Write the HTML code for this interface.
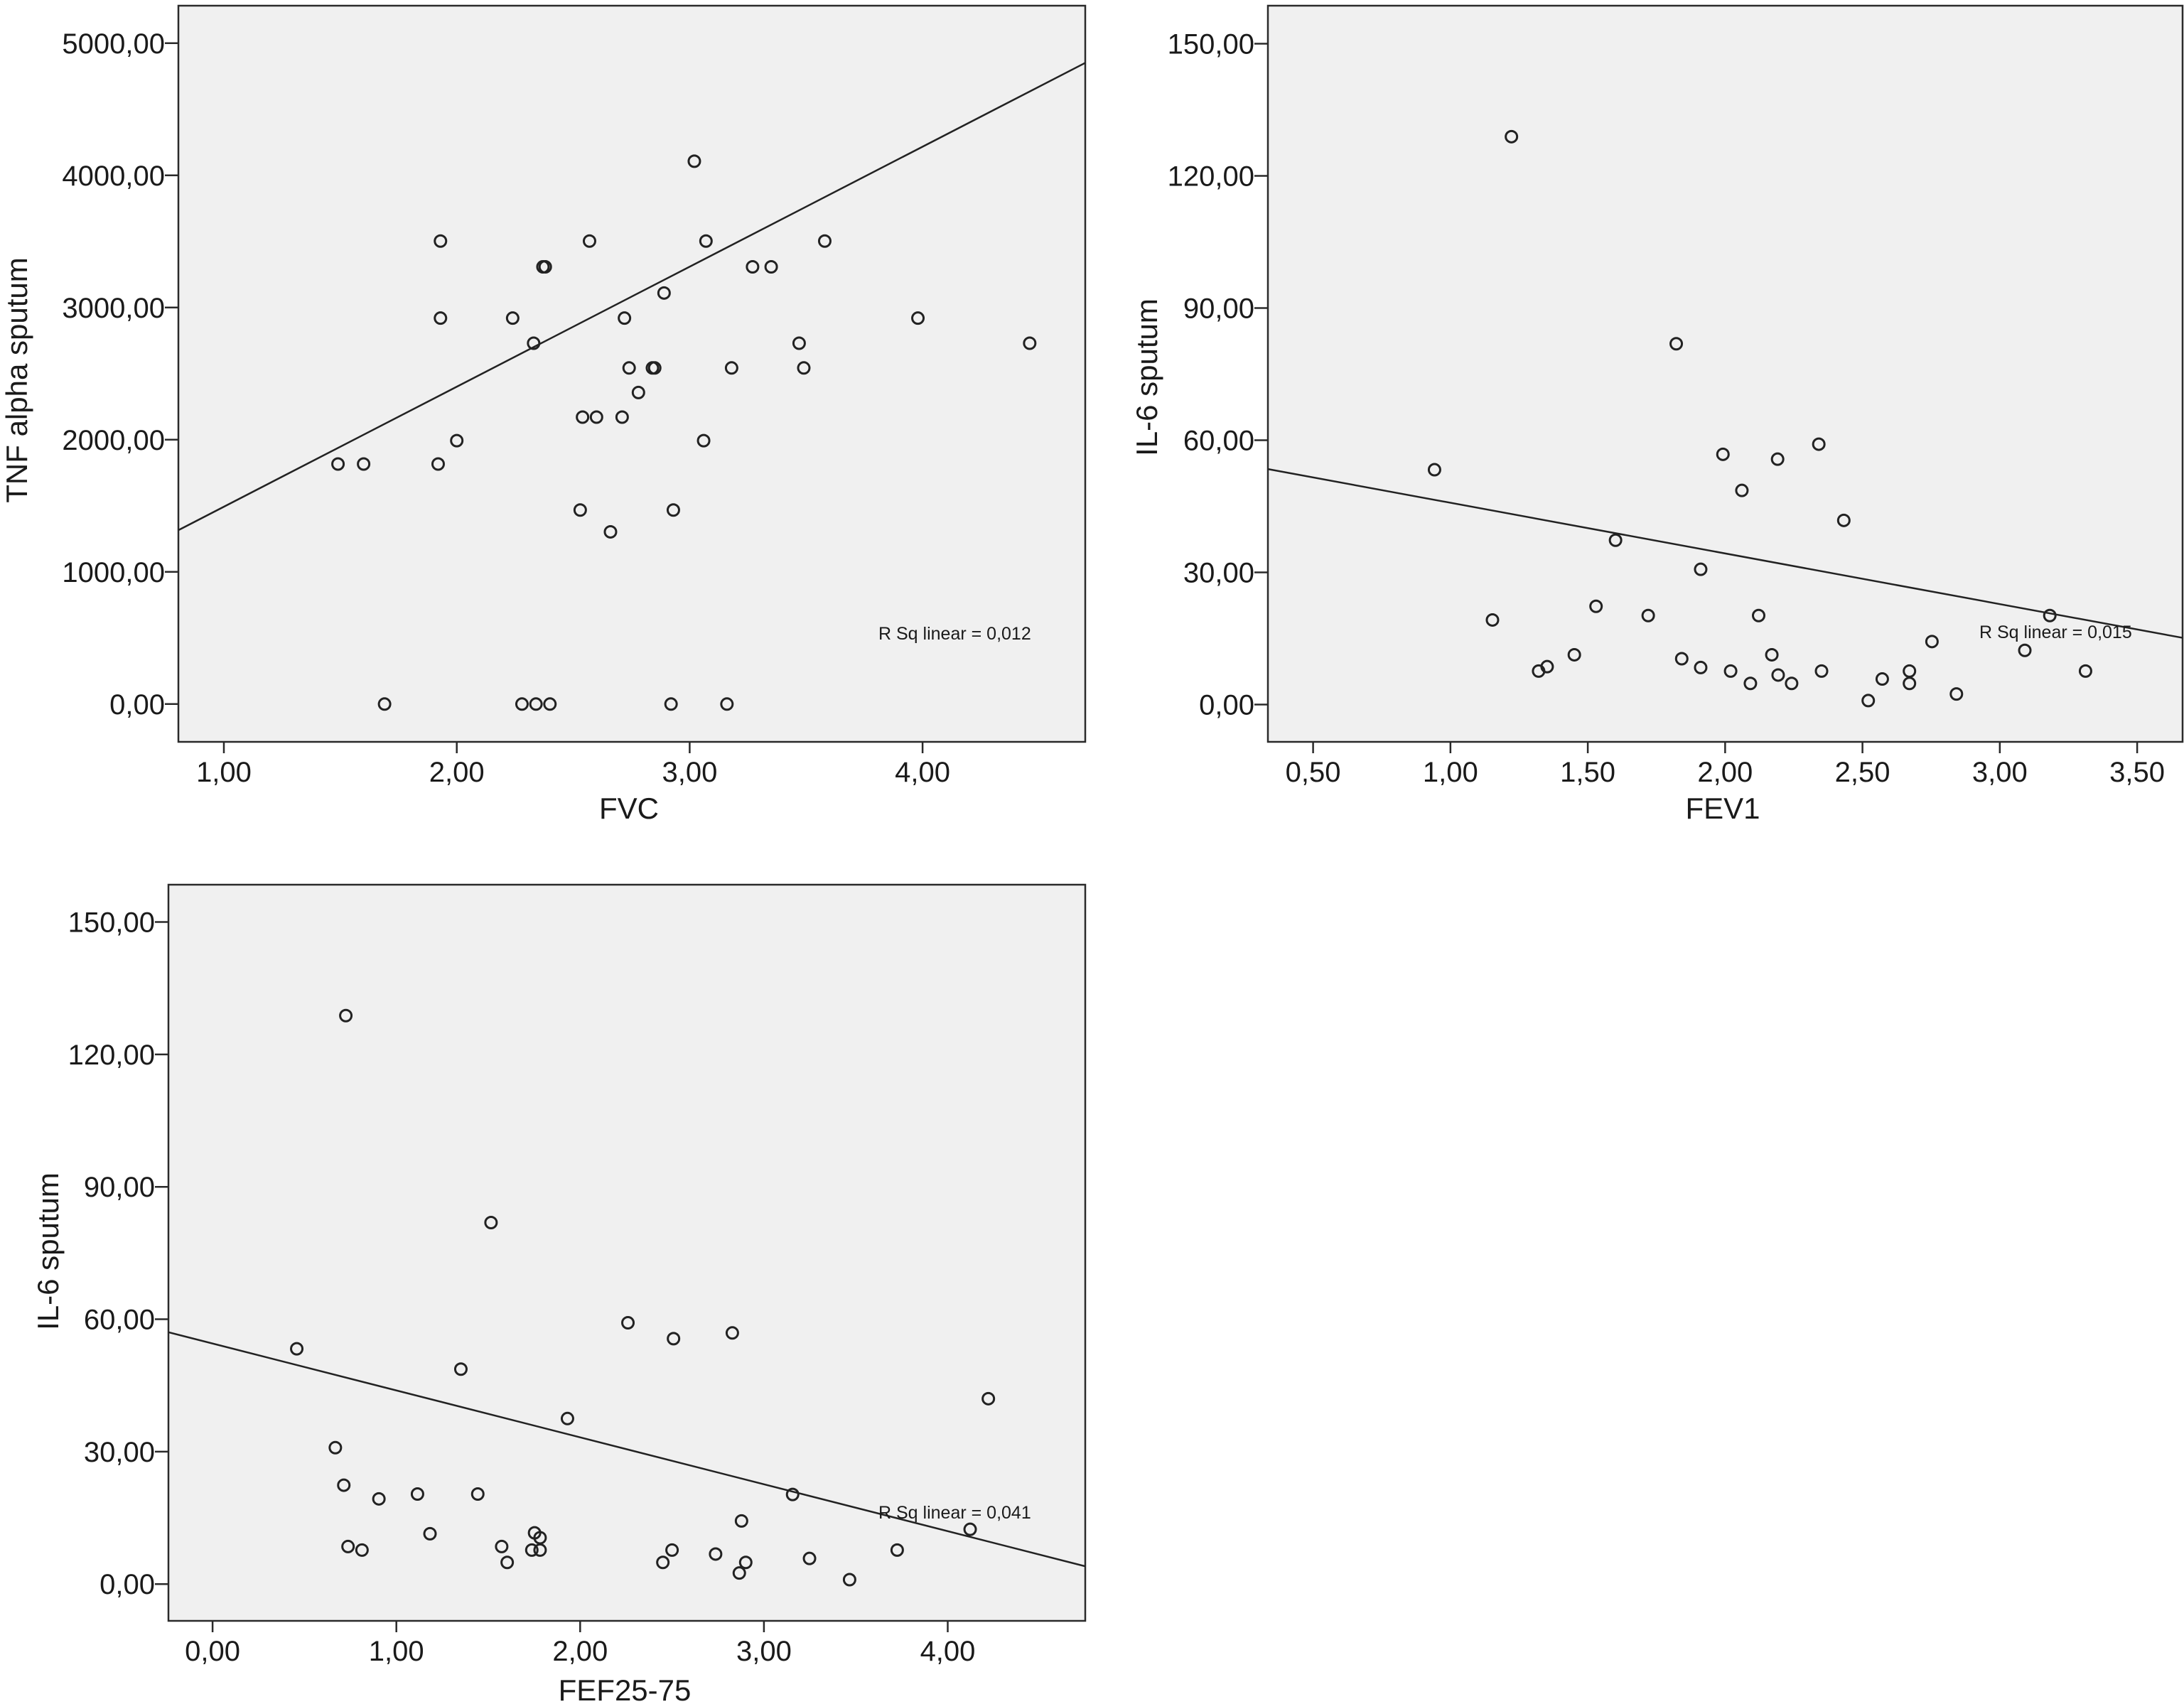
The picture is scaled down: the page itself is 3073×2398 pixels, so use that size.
<!DOCTYPE html>
<html>
<head>
<meta charset="utf-8">
<style>
html,body{margin:0;padding:0;background:#fff;}
svg{display:block;}
text{font-family:"Liberation Sans Narrow","Liberation Sans",sans-serif;fill:#1a1a1a;}
</style>
</head>
<body>
<svg id="fig" width="3073" height="2398" viewBox="0 0 3073 2398" xmlns="http://www.w3.org/2000/svg"></svg>
<script>
// ---- Chart 1: TNF alpha sputum vs FVC ----
const fvcX = [1.49,1.60,1.69,1.92,1.93,1.93,2.00,2.24,2.28,2.34,2.40,2.33,2.37,2.38,2.53,2.54,2.60,2.57,2.66,2.71,2.72,2.74,2.78,2.84,2.85,2.89,2.92,2.93,3.02,3.06,3.07,3.16,3.18,3.27,3.35,3.47,3.49,3.58,3.98,4.46];
const tnfY = [1816,1816,0,1816,3503,2920,1993,2920,0,0,0,2730,3308,3308,1468,2171,2171,3503,1303,2171,2920,2543,2357,2543,2543,3110,0,1468,4107,1993,3503,0,2543,3308,3308,2730,2543,3503,2920,2730];
const c1XTicks = [1,2,3,4];
const c1XLabels = ["1,00","2,00","3,00","4,00"];
const c1YTicks = [0,1000,2000,3000,4000,5000];
const c1YLabels = ["0,00","1000,00","2000,00","3000,00","4000,00","5000,00"];
const c1Fit = [585, 908];
const c1Rsq = "R Sq linear = 0,012";

// ---- Chart 2: IL-6 sputum vs FEV1 ----
const fev1X = [0.942,1.153,1.222,1.321,1.352,1.451,1.530,1.601,1.720,1.822,1.842,1.911,1.911,1.992,2.020,2.061,2.092,2.122,2.170,2.191,2.193,2.242,2.341,2.351,2.432,2.521,2.572,2.671,2.671,2.753,2.842,3.091,3.182,3.312];
const il6aY = [53.3,19.2,128.9,7.6,8.6,11.3,22.3,37.3,20.2,81.9,10.4,30.7,8.4,56.8,7.6,48.6,4.8,20.2,11.3,55.7,6.7,4.8,59.1,7.6,41.8,0.9,5.8,7.6,4.8,14.3,2.4,12.3,20.2,7.6];
const c2XTicks = [0.5,1,1.5,2,2.5,3,3.5];
const c2XLabels = ["0,50","1,00","1,50","2,00","2,50","3,00","3,50"];
const c2YTicks = [0,30,60,90,120,150];
const c2YLabels = ["0,00","30,00","60,00","90,00","120,00","150,00"];
const c2Fit = [57.3, -11.5];
const c2Rsq = "R Sq linear = 0,015";

// ---- Chart 3: IL-6 sputum vs FEF25-75 ----
const fefX = [0.458,0.668,0.714,0.725,0.737,0.813,0.905,1.115,1.183,1.351,1.443,1.515,1.573,1.603,1.737,1.752,1.782,1.782,1.931,2.260,2.450,2.500,2.508,2.737,2.828,2.866,2.878,2.901,3.156,3.248,3.466,3.725,4.122,4.221];
const il6bY = [53.3,30.9,22.4,128.8,8.5,7.7,19.3,20.4,11.4,48.7,20.4,81.9,8.5,4.9,7.7,11.6,10.5,7.7,37.5,59.2,4.9,7.7,55.6,6.8,56.9,2.5,14.3,4.9,20.3,5.8,1.0,7.7,12.4,42.0];
const c3XTicks = [0,1,2,3,4];
const c3XLabels = ["0,00","1,00","2,00","3,00","4,00"];
const c3YTicks = [0,30,60,90,120,150];
const c3YLabels = ["0,00","30,00","60,00","90,00","120,00","150,00"];
const c3Fit = [54.5, -10.63];
const c3Rsq = "R Sq linear = 0,041";

const NS = "http://www.w3.org/2000/svg";
const fig = document.getElementById('fig');
function mk(tag, attrs, parent){
  const e = document.createElementNS(NS, tag);
  for (const k in attrs) e.setAttribute(k, attrs[k]);
  parent.appendChild(e);
  return e;
}

function drawChart(cfg){
  const g = mk('g', {}, fig);
  
  
  const L = cfg.frame[0], T = cfg.frame[1], R = cfg.frame[2], B = cfg.frame[3];
  const xs = v => cfg.x0px + (v - cfg.x0v) * cfg.xpu;
  const ys = v => cfg.y0px - (v - cfg.y0v) * cfg.ypu;
  const xinv = p => cfg.x0v + (p - cfg.x0px) / cfg.xpu;

  const bg = mk('rect', {x:L, y:T, width:R-L, height:B-T, fill:'#f0f0f0', stroke:'#2a2a2a', 'stroke-width':2.5}, g);
  
  

  // y ticks
  cfg.yTicks.forEach((t, i) => {
    const y = ys(t);
    const tk = mk('line', {x1:L-19, x2:L, y1:y, y2:y, stroke:'#2a2a2a', 'stroke-width':2.5}, g);
    
    
    const tx = mk('text', {x:L-19, y:y+14, 'text-anchor':'end', 'font-size':40}, g);
    tx.textContent = cfg.yLabels[i];
    
    
  });
  // x ticks
  cfg.xTicks.forEach((t, i) => {
    const x = xs(t);
    const tk = mk('line', {x1:x, x2:x, y1:B, y2:B+16, stroke:'#2a2a2a', 'stroke-width':2.5}, g);
    
    
    const tx = mk('text', {x:x, y:B+56, 'text-anchor':'middle', 'font-size':40}, g);
    tx.textContent = cfg.xLabels[i];
    
    
  });
  // regression line
  const xa = xinv(L), xb = xinv(R);
  const ln = mk('line', {x1:L, y1:ys(cfg.fit[0] + cfg.fit[1]*xa), x2:R, y2:ys(cfg.fit[0] + cfg.fit[1]*xb), stroke:'#222', 'stroke-width':2.5}, g);
  
  
  // points
  cfg.xs.forEach((v, i) => {
    const c = mk('circle', {cx:xs(v), cy:ys(cfg.ys[i]), r:8, fill:'none', stroke:'#222', 'stroke-width':3}, g);
    
    
  });
  // r sq
  const rs = mk('text', {x:cfg.rsqPos[0], y:cfg.rsqPos[1], 'font-size':25}, g);
  rs.textContent = cfg.rsq;
  
  
  // titles
  const xt = mk('text', {x:cfg.xTitlePos[0], y:cfg.xTitlePos[1], 'text-anchor':'middle', 'font-size':42}, g);
  xt.textContent = cfg.xTitle;
  
  
  const yt = mk('text', {x:0, y:0, 'text-anchor':'middle', 'font-size':42, transform:'translate(' + cfg.yTitlePos[0] + ',' + cfg.yTitlePos[1] + ') rotate(-90)'}, g);
  yt.textContent = cfg.yTitle;
  
  
}

drawChart({name:'chart-tnf-vs-fvc', frame:[251,8,1527,1044],
  x0v:1, x0px:315, xpu:327.7, y0v:0, y0px:990.8, ypu:0.186,
  xs:fvcX, ys:tnfY, xTicks:c1XTicks, xLabels:c1XLabels, yTicks:c1YTicks, yLabels:c1YLabels,
  fit:c1Fit, rsq:c1Rsq, rsqPos:[1236,900], xTitle:'FVC', xTitlePos:[885,1152], yTitle:'TNF alpha sputum', yTitlePos:[38,535]});

drawChart({name:'chart-il6-vs-fev1', frame:[1784,8,3071,1044],
  x0v:0.5, x0px:1847.6, xpu:386.5, y0v:0, y0px:991.5, ypu:6.2,
  xs:fev1X, ys:il6aY, xTicks:c2XTicks, xLabels:c2XLabels, yTicks:c2YTicks, yLabels:c2YLabels,
  fit:c2Fit, rsq:c2Rsq, rsqPos:[2785,898], xTitle:'FEV1', xTitlePos:[2424,1152], yTitle:'IL-6 sputum', yTitlePos:[1628,531]});

drawChart({name:'chart-il6-vs-fef2575', frame:[237,1245,1527,2281],
  x0v:0, x0px:299.1, xpu:258.6, y0v:0, y0px:2229.2, ypu:6.211,
  xs:fefX, ys:il6bY, xTicks:c3XTicks, xLabels:c3XLabels, yTicks:c3YTicks, yLabels:c3YLabels,
  fit:c3Fit, rsq:c3Rsq, rsqPos:[1236,2137], xTitle:'FEF25-75', xTitlePos:[879,2393], yTitle:'IL-6 sputum', yTitlePos:[82,1761]});
</script>
</body>
</html>
